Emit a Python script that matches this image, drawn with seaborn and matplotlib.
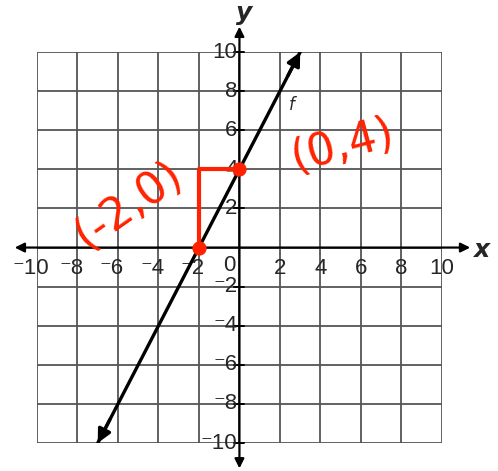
import matplotlib.pyplot as plt
import seaborn as sns
import pandas as pd

# Dados do gráfico (reta f: y = 2x + 4)
x_ticks = [-10, -8, -6, -4, -2, 0, 2, 4, 6, 8, 10]
y_ticks = [-10, -8, -6, -4, -2, 0, 2, 4, 6, 8, 10]
line_x = [-7, 3]
line_y = [-10, 10]
point_x = [-2, 0]
point_y = [0, 4]
point_labels = ["(-2,0)", "(0,4)"]

sns.set_style("white")
plt.rcParams['font.family'] = ['Liberation Sans', 'DejaVu Sans']

fig = plt.figure(figsize=(4.98, 4.71), dpi=100)
ax = fig.add_axes([0.0743, 0.0594, 0.813, 0.830])

# Grade
for t in x_ticks:
    ax.axvline(t, color='#555555', lw=1.3, zorder=1)
for t in y_ticks:
    ax.axhline(t, color='#555555', lw=1.3, zorder=1)
ax.set_xlim(-10, 10)
ax.set_ylim(-10, 10)
ax.set_xticks([])
ax.set_yticks([])
for s in ax.spines.values():
    s.set_visible(False)

# Eixos com setas
ax.annotate('', xy=(11.4, 0), xytext=(-11.1, 0), annotation_clip=False,
            arrowprops=dict(arrowstyle='<|-|>', color='black', lw=1.6,
                            mutation_scale=14, shrinkA=0, shrinkB=0))
ax.annotate('', xy=(0, 11.3), xytext=(0, -11.3), annotation_clip=False,
            arrowprops=dict(arrowstyle='<|-|>', color='black', lw=1.6,
                            mutation_scale=14, shrinkA=0, shrinkB=0))
ax.text(11.95, -0.15, 'x', fontsize=18, fontstyle='italic', fontweight='bold',
        ha='center', va='center', family='DejaVu Sans')
ax.text(0.25, 12.0, 'y', fontsize=18, fontstyle='italic', fontweight='bold',
        ha='center', va='center', family='DejaVu Sans')

# Rótulos dos ticks
def lab(v):
    return ('\u207b' + str(abs(v))) if v < 0 else str(v)

for t in x_ticks:
    if t == 0:
        ax.text(-0.5, -0.9, '0', fontsize=16, ha='center', va='center')
        continue
    shift = 0.3 * len(str(abs(t))) if t < 0 else 0
    ha = 'right' if t < 0 else 'center'
    ax.text(t + shift, -1.05, lab(t), fontsize=16, ha=ha, va='center')
for t in y_ticks:
    if t == 0:
        continue
    ax.text(-0.1, t, lab(t), fontsize=16, ha='right', va='center')
    ax.plot([-0.25, 0.25], [t, t], color='black', lw=1.4, clip_on=False)

# Reta f
df = pd.DataFrame({'x': line_x, 'y': line_y})
sns.lineplot(data=df, x='x', y='y', color='black', lw=2.4, ax=ax, zorder=3)
ax.annotate('', xy=(line_x[1], line_y[1]), xytext=(line_x[1] - 0.6, line_y[1] - 1.2),
            arrowprops=dict(arrowstyle='-|>', color='black', lw=2.4,
                            mutation_scale=20, shrinkA=0, shrinkB=0))
ax.annotate('', xy=(line_x[0], line_y[0]), xytext=(line_x[0] + 0.6, line_y[0] + 1.2),
            arrowprops=dict(arrowstyle='-|>', color='black', lw=2.4,
                            mutation_scale=20, shrinkA=0, shrinkB=0))
ax.text(2.6, 7.3, 'f', fontsize=12, fontstyle='italic', ha='center', va='center',
        family='DejaVu Sans')
ax.set_xlabel('')
ax.set_ylabel('')

# Anotações em vermelho
red = '#ff2200'
ax.plot([point_x[0], point_x[0], point_x[1]], [point_y[0] + 0.3, point_y[1], point_y[1]],
        color=red, lw=3, zorder=4)
sns.scatterplot(x=point_x, y=point_y, color=red, s=90, edgecolor=red, ax=ax, zorder=5)
ax.text(-5.5, 2.2, point_labels[0], fontsize=32, color=red, rotation=35,
        ha='center', va='center', family='DejaVu Sans')
ax.text(5.1, 5.2, point_labels[1], fontsize=32, color=red, rotation=15,
        ha='center', va='center', family='DejaVu Sans')

fig.savefig('out.png', dpi=100)
